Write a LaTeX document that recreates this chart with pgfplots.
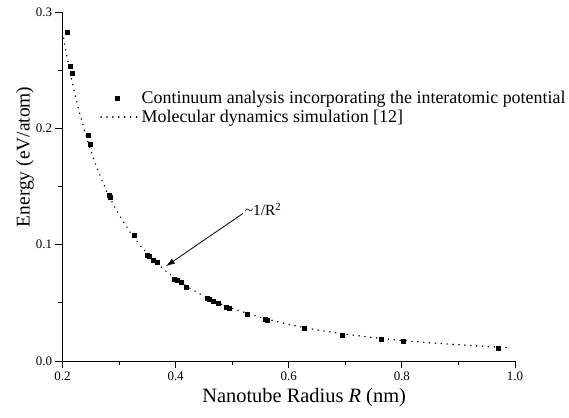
\documentclass[border=0pt]{standalone}
\usepackage{pgfplots}
\pgfplotsset{compat=1.18}
\usepackage{fontspec}
\setmainfont{Liberation Serif}
\usetikzlibrary{arrows.meta}
\pgfplotsset{
  markimg/.style={legend image code/.code={\draw[##1] plot coordinates {(16bp,0bp)};}},
  lineimg/.style={legend image code/.code={\draw[##1] (0bp,0bp) -- (38bp,0bp);}},
}
\begin{document}
\begin{tikzpicture}
\begin{axis}[
  scale only axis, width=452.5bp, height=349bp,
  xmin=0.2, xmax=1.0, ymin=0, ymax=0.3,
  axis lines*=left,
  tick align=outside,
  xtick={0.2,0.4,0.6,0.8,1.0}, minor xtick={0.3,0.5,0.7,0.9},
  ytick={0,0.1,0.2,0.3}, minor ytick={0.05,0.15,0.25},
  xticklabels={0.2,0.4,0.6,0.8,1.0},
  yticklabels={0.0,0.1,0.2,0.3},
  major tick length=7bp, minor tick length=4bp,
  tick style={black, line width=0.8bp},
  axis line style={line width=0.8bp},
  tick label style={font=\fontsize{13}{15}\selectfont},
  xlabel={Nanotube Radius \textit{R} (nm)},
  ylabel={Energy (eV/atom)},
  xlabel style={font=\fontsize{20.5}{24}\selectfont, at={(axis description cs:0.534,-0.106)}, anchor=center},
  ylabel style={font=\fontsize{19.5}{23}\selectfont, at={(axis description cs:-0.083,0.585)}, anchor=center},
  legend style={draw=none, fill=none, at={(axis description cs:0.083,0.78)}, anchor=north west,
    font=\fontsize{18}{21}\selectfont, row sep=1bp, inner sep=0pt},
  legend cell align=left,
  clip=false,
]
\addplot[only marks, mark=square*, mark size=2bp, black, markimg]
  coordinates {
  (0.2085,0.2824) (0.213,0.2535) (0.218,0.2475) (0.246,0.1943) (0.249,0.186)
  (0.283,0.1425) (0.285,0.1408) (0.327,0.1084) (0.349,0.091) (0.353,0.090)
  (0.360,0.0867) (0.367,0.085) (0.397,0.0707) (0.403,0.0693) (0.409,0.0675)
  (0.419,0.0638) (0.455,0.0538) (0.459,0.0532) (0.466,0.0518) (0.475,0.0495)
  (0.489,0.0463) (0.494,0.0458) (0.527,0.0398) (0.558,0.0358) (0.562,0.0349)
  (0.627,0.0283) (0.695,0.0226) (0.763,0.0191) (0.802,0.0174) (0.971,0.0114)
  };
\addlegendentry{Continuum analysis incorporating the interatomic potential}
\addplot[black, line width=1.4bp, line cap=round, dash pattern=on 0.3bp off 5.6bp, lineimg]
  coordinates {
  (0.20,0.2825) (0.21,0.2562) (0.22,0.2335) (0.23,0.2136) (0.24,0.1962)
  (0.25,0.1808) (0.26,0.1672) (0.27,0.1550) (0.28,0.1441) (0.29,0.1344)
  (0.30,0.1256) (0.32,0.1104) (0.34,0.0978) (0.36,0.0872) (0.38,0.0783)
  (0.40,0.0706) (0.42,0.0641) (0.44,0.0584) (0.46,0.0534) (0.48,0.0490)
  (0.50,0.0452) (0.55,0.0374) (0.60,0.0314) (0.65,0.0267) (0.70,0.0231)
  (0.75,0.0201) (0.80,0.0177) (0.85,0.0156) (0.90,0.0140) (0.95,0.0125)
  (0.99,0.0115)
  };
\addlegendentry{Molecular dynamics simulation [12]}
\draw[-{Latex[length=9bp,width=6bp]}, line width=0.8bp]
  (axis cs:0.519,0.1268) -- (axis cs:0.383,0.0815);
\node[anchor=base west, inner sep=0pt, font=\fontsize{15.5}{18}\selectfont]
  at (axis cs:0.522,0.1253) {\textasciitilde1/R\textsuperscript{2}};
\end{axis}
\pgfresetboundingbox
\path (current axis.south west) ++(-62.5bp,-57bp) rectangle ++(569bp,418bp);
\end{tikzpicture}
\end{document}
